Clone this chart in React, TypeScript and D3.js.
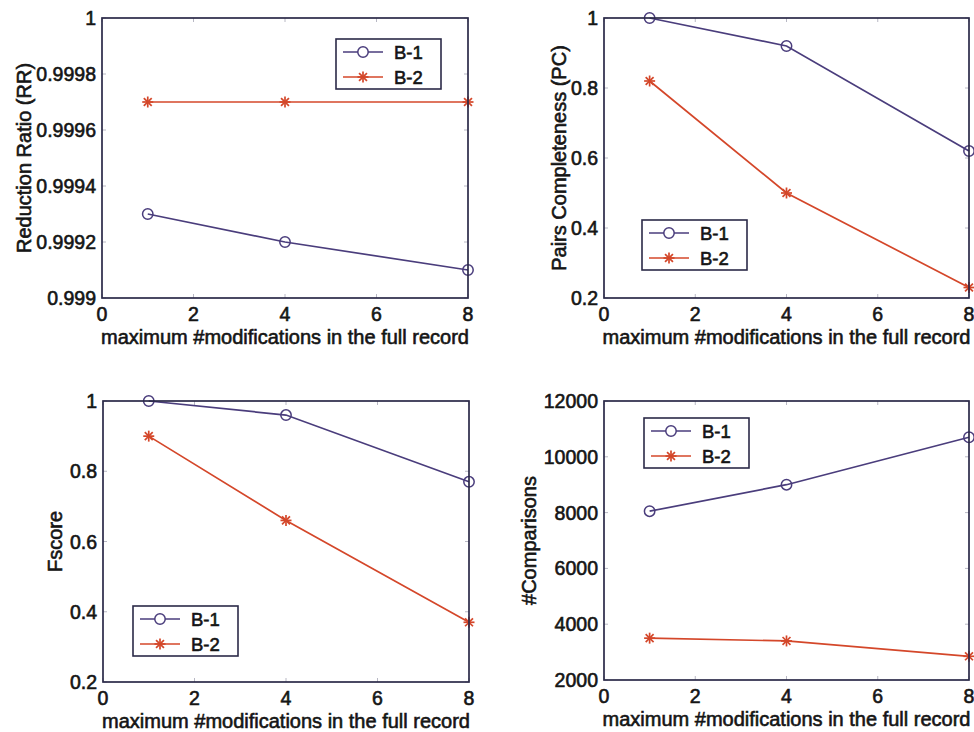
import React from "react";
import * as d3 from "d3";

// ---- data ----
const xValues = [1, 4, 8];
const xTicks = [0, 2, 4, 6, 8];
const seriesNames = ["B-1", "B-2"];
const xAxisLabel = "maximum #modifications in the full record";

const rrB1 = [0.9993, 0.9992, 0.9991];
const rrB2 = [0.9997, 0.9997, 0.9997];
const rrTicks = [0.999, 0.9992, 0.9994, 0.9996, 0.9998, 1];
const rrTickLabels = ["0.999", "0.9992", "0.9994", "0.9996", "0.9998", "1"];

const pcB1 = [1, 0.92, 0.62];
const pcB2 = [0.82, 0.5, 0.23];
const pcTicks = [0.2, 0.4, 0.6, 0.8, 1];
const pcTickLabels = ["0.2", "0.4", "0.6", "0.8", "1"];

const fB1 = [1, 0.96, 0.77];
const fB2 = [0.9, 0.66, 0.37];
const fTicks = [0.2, 0.4, 0.6, 0.8, 1];
const fTickLabels = ["0.2", "0.4", "0.6", "0.8", "1"];

const cmpB1 = [8050, 9000, 10700];
const cmpB2 = [3500, 3400, 2850];
const cmpTicks = [2000, 4000, 6000, 8000, 10000, 12000];
const cmpTickLabels = ["2000", "4000", "6000", "8000", "10000", "12000"];

// ---- styles ----
const C1 = "#4a3d7c";
const C2 = "#d4472a";
const FRAME = "#2b2a48";
const FONT = "'Liberation Sans', Arial, Helvetica, sans-serif";
const TEXT = "#151515";

type PanelProps = {
  left: number; right: number; top: number; bottom: number;
  yDomain: [number, number];
  yTicks: number[]; yTickLabels: string[];
  yLabel: string; yLabelX: number;
  b1: number[]; b2: number[];
  legendX: number; legendY: number;
};

function Star({ x, y, color }: { x: number; y: number; color: string }) {
  const r = 5.5;
  const d = r * 0.72;
  return (
    <g stroke={color} strokeWidth={1.7}>
      <line x1={x - r} y1={y} x2={x + r} y2={y} />
      <line x1={x} y1={y - r} x2={x} y2={y + r} />
      <line x1={x - d} y1={y - d} x2={x + d} y2={y + d} />
      <line x1={x - d} y1={y + d} x2={x + d} y2={y - d} />
    </g>
  );
}

function Panel(p: PanelProps) {
  const xs = d3.scaleLinear().domain([0, 8]).range([p.left, p.right]);
  const ys = d3.scaleLinear().domain(p.yDomain).range([p.bottom, p.top]);
  const line = d3
    .line<number>()
    .x((_, i) => xs(xValues[i]))
    .y((d) => ys(d));
  const tickLen = 4;
  return (
    <g>
      {/* ticks */}
      <g stroke="#b8b8c4" strokeWidth={1}>
        {xTicks.map((t) => (
          <g key={"xt" + t}>
            <line x1={xs(t)} x2={xs(t)} y1={p.bottom} y2={p.bottom - tickLen} />
            <line x1={xs(t)} x2={xs(t)} y1={p.top} y2={p.top + tickLen} />
          </g>
        ))}
        {p.yTicks.map((t) => (
          <g key={"yt" + t}>
            <line x1={p.left} x2={p.left + tickLen} y1={ys(t)} y2={ys(t)} />
            <line x1={p.right} x2={p.right - tickLen} y1={ys(t)} y2={ys(t)} />
          </g>
        ))}
      </g>
      {/* series */}
      <path d={line(p.b1) || ""} fill="none" stroke={C1} strokeWidth={1.7} />
      <path d={line(p.b2) || ""} fill="none" stroke={C2} strokeWidth={1.7} />
      {p.b1.map((v, i) => (
        <circle key={"c" + i} cx={xs(xValues[i])} cy={ys(v)} r={5.2} fill="none" stroke={C1} strokeWidth={1.5} />
      ))}
      {p.b2.map((v, i) => (
        <Star key={"s" + i} x={xs(xValues[i])} y={ys(v)} color={C2} />
      ))}
      {/* frame */}
      <rect x={p.left} y={p.top} width={p.right - p.left} height={p.bottom - p.top} fill="none" stroke={FRAME} strokeWidth={1.7} />
      {/* tick labels */}
      <g fontFamily={FONT} fontSize={19.5} fill={TEXT} stroke={TEXT} strokeWidth={0.6}>
        {xTicks.map((t) => (
          <text key={"xl" + t} x={xs(t)} y={p.bottom + 23} textAnchor="middle">
            {t}
          </text>
        ))}
        {p.yTicks.map((t, i) => (
          <text key={"yl" + t} x={p.left - 6} y={ys(t) + 7} textAnchor="end">
            {p.yTickLabels[i]}
          </text>
        ))}
      </g>
      <g fontFamily={FONT} fontSize={20} fill={TEXT} stroke={TEXT} strokeWidth={0.6}>
        <text x={(p.left + p.right) / 2} y={p.bottom + 46} textAnchor="middle">
          {xAxisLabel}
        </text>
        <text
          transform={`translate(${p.yLabelX},${(p.top + p.bottom) / 2}) rotate(-90)`}
          textAnchor="middle"
        >
          {p.yLabel}
        </text>
      </g>
      {/* legend */}
      <g>
        <rect x={p.legendX} y={p.legendY} width={105} height={50} fill="#fff" stroke={FRAME} strokeWidth={1.6} />
        <line x1={p.legendX + 7} x2={p.legendX + 47} y1={p.legendY + 13} y2={p.legendY + 13} stroke={C1} strokeWidth={1.7} />
        <circle cx={p.legendX + 27} cy={p.legendY + 13} r={5.2} fill="#fff" stroke={C1} strokeWidth={1.5} />
        <line x1={p.legendX + 7} x2={p.legendX + 47} y1={p.legendY + 38} y2={p.legendY + 38} stroke={C2} strokeWidth={1.7} />
        <Star x={p.legendX + 27} y={p.legendY + 38} color={C2} />
        <g fontFamily={FONT} fontSize={18.5} fill={TEXT} stroke={TEXT} strokeWidth={0.6}>
          <text x={p.legendX + 58} y={p.legendY + 20}>{seriesNames[0]}</text>
          <text x={p.legendX + 58} y={p.legendY + 45}>{seriesNames[1]}</text>
        </g>
      </g>
    </g>
  );
}

export default function App() {
  return (
    <svg
      width={974}
      height={732}
      style={{ position: "absolute", left: 0, top: 0, background: "#fff" }}
    >
      <rect width={974} height={732} fill="#fff" />
      <Panel
        left={102} right={468} top={18} bottom={298}
        yDomain={[0.999, 1]} yTicks={rrTicks} yTickLabels={rrTickLabels}
        yLabel="Reduction Ratio (RR)" yLabelX={31}
        b1={rrB1} b2={rrB2}
        legendX={336} legendY={39}
      />
      <Panel
        left={604} right={969} top={18} bottom={298}
        yDomain={[0.2, 1]} yTicks={pcTicks} yTickLabels={pcTickLabels}
        yLabel="Pairs Completeness (PC)" yLabelX={566}
        b1={pcB1} b2={pcB2}
        legendX={642} legendY={220}
      />
      <Panel
        left={103} right={469} top={401} bottom={682}
        yDomain={[0.2, 1]} yTicks={fTicks} yTickLabels={fTickLabels}
        yLabel="Fscore" yLabelX={62}
        b1={fB1} b2={fB2}
        legendX={133} legendY={606}
      />
      <Panel
        left={604} right={969} top={401} bottom={680}
        yDomain={[2000, 12000]} yTicks={cmpTicks} yTickLabels={cmpTickLabels}
        yLabel="#Comparisons" yLabelX={536}
        b1={cmpB1} b2={cmpB2}
        legendX={644} legendY={418}
      />
    </svg>
  );
}
